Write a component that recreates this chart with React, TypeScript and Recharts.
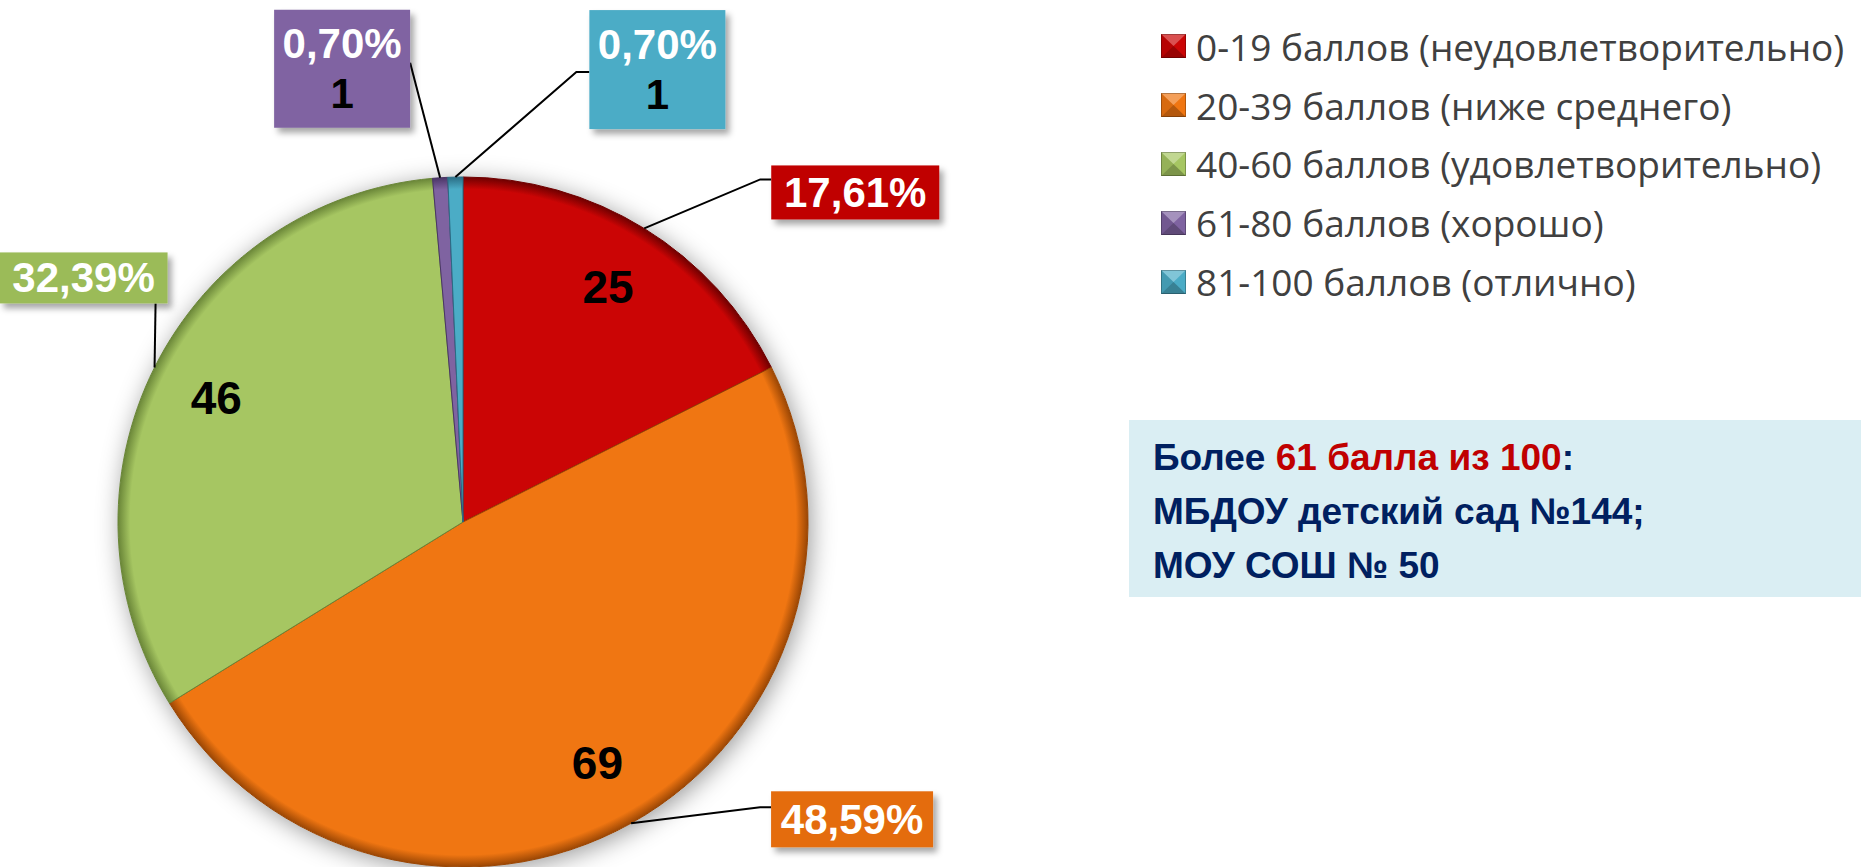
import React from 'react';
import { PieChart, Pie, Cell, Legend } from 'recharts';

const categories = [
  '0-19 баллов (неудовлетворительно)',
  '20-39 баллов (ниже среднего)',
  '40-60 баллов (удовлетворительно)',
  '61-80 баллов (хорошо)',
  '81-100 баллов (отлично)',
];
const counts = [25, 69, 46, 1, 1];
const sliceColors = ['#CB0505', '#F07612', '#A6C662', '#7F63A1', '#4BACC6'];
const rimColors = ['#6E0000', '#9A4604', '#6A8638', '#4A3566', '#2A6C84'];
const boxColors = ['#C00000', '#E46C0A', '#9BBB59', '#8064A2', '#4BACC6'];

const noteLine1 = ['Более ', '61 балла из 100', ':'];
const noteLine2 = 'МБДОУ детский сад №144;';
const noteLine3 = 'МОУ СОШ № 50';

const W = 1861;
const H = 867;
const CX = 463;
const CY = 522;
const R = 345;

const total = counts.reduce((a, b) => a + b, 0);
const data = categories.map((name, i) => ({ name, value: counts[i] }));
const bgData = [{ name: 'bg', value: total }];

// label box layout, offsets relative to the slice's outer edge point
const labelLayout = [
  { bx: 127, by: -63, w: 168, h: 54, ex: 116, ey: -49, tx: 127, ty: -49 },
  { bx: 140, by: -32, w: 162, h: 56, ex: 129, ey: -16, tx: 140, ty: -16 },
  { bx: -155, by: -115, w: 168, h: 51, ex: 1, ey: -64, tx: 1, ty: -64 },
  { bx: -166, by: -168, w: 136, h: 118, ex: -30, ey: -115, tx: -30, ty: -115 },
  { bx: 134, by: -167, w: 136, h: 119, ex: 121, ey: -105, tx: 134, ty: -105 },
];

const RAD = Math.PI / 180;
const boldFont = '"Liberation Sans", Arial, sans-serif';

const renderLabel = (props: any) => {
  const { cx, cy, midAngle, outerRadius, index, value } = props;
  const ax = cx + outerRadius * Math.cos(-midAngle * RAD);
  const ay = cy + outerRadius * Math.sin(-midAngle * RAD);
  const L = labelLayout[index];
  const small = value / total < 0.05;
  const pct = ((value / total) * 100).toFixed(2).replace('.', ',') + '%';
  const ir = outerRadius * 0.8;
  const ix = cx + ir * Math.cos(-midAngle * RAD);
  const iy = cy + ir * Math.sin(-midAngle * RAD);
  const bx = ax + L.bx;
  const by = ay + L.by;
  const pts = `${ax},${ay} ${ax + L.ex},${ay + L.ey} ${ax + L.tx},${ay + L.ty}`;
  return (
    <g key={`lbl-${index}`}>
      {!small && (
        <text x={ix} y={iy} textAnchor="middle" dominantBaseline="central"
          fontFamily={boldFont} fontWeight="bold" fontSize={46} fill="#000">
          {value}
        </text>
      )}
      <polyline points={pts} fill="none" stroke="#000" strokeWidth={2} />
      <rect x={bx} y={by} width={L.w} height={L.h} fill={boxColors[index]} filter="url(#boxShadow)" />
      {small ? (
        <>
          <text x={bx + L.w / 2} y={by + L.h / 2 - 25} textAnchor="middle" dominantBaseline="central"
            fontFamily={boldFont} fontWeight="bold" fontSize={42} fill="#fff">{pct}</text>
          <text x={bx + L.w / 2} y={by + L.h / 2 + 25} textAnchor="middle" dominantBaseline="central"
            fontFamily={boldFont} fontWeight="bold" fontSize={42} fill="#000">{value}</text>
        </>
      ) : (
        <text x={bx + L.w / 2} y={by + L.h / 2} textAnchor="middle" dominantBaseline="central"
          fontFamily={boldFont} fontWeight="bold" fontSize={42} fill="#fff">{pct}</text>
      )}
    </g>
  );
};

const Marker = ({ color }: { color: string }) => (
  <svg width={25} height={24} style={{ display: 'block', flex: 'none' }}>
    <rect x={0} y={0} width={25} height={24} fill={color} />
    <polygon points="0,0 25,0 12.5,12" fill="#fff" opacity={0.3} />
    <polygon points="0,24 25,24 12.5,12" fill="#000" opacity={0.25} />
    <polygon points="0,0 0,24 12.5,12" fill="#000" opacity={0.1} />
    <rect x={0.5} y={0.5} width={24} height={23} fill="none" stroke="#000" strokeOpacity={0.25} />
  </svg>
);

const renderLegend = () => (
  <div>
    {categories.map((c, i) => (
      <div key={c} style={{ display: 'flex', alignItems: 'center', height: 58.8 }}>
        <Marker color={sliceColors[i]} />
        <span style={{ marginLeft: 10, fontFamily: '"Open Sans", sans-serif', fontSize: 37, color: '#404040', whiteSpace: 'nowrap', lineHeight: 1 }}>{c}</span>
      </div>
    ))}
  </div>
);

export default function App() {
  return (
    <div style={{ position: 'relative', width: W, height: H, overflow: 'hidden', background: '#fff' }}>
      <style>{`body{margin:0;} html,body{overflow:hidden;}`}</style>
      <svg width={0} height={0} style={{ position: 'absolute' }}>
        <defs>
          {sliceColors.map((c, i) => (
            <radialGradient key={i} id={`sg${i}`} gradientUnits="userSpaceOnUse" cx={CX} cy={CY} r={R}>
              <stop offset="0" stopColor={c} />
              <stop offset="0.965" stopColor={c} />
              <stop offset="1" stopColor={rimColors[i]} />
            </radialGradient>
          ))}
          <filter id="pieShadow" x="-20%" y="-20%" width="140%" height="140%">
            <feDropShadow dx="3" dy="4" stdDeviation="12" floodColor="#000" floodOpacity="0.4" />
          </filter>
          <filter id="boxShadow" x="-20%" y="-20%" width="150%" height="150%">
            <feDropShadow dx="4" dy="5" stdDeviation="3" floodColor="#000" floodOpacity="0.35" />
          </filter>
        </defs>
      </svg>
      <PieChart width={W} height={H} margin={{ top: 0, right: 0, bottom: 0, left: 0 }}>
        <Pie data={bgData} dataKey="value" cx={CX} cy={CY} outerRadius={R} startAngle={90} endAngle={-270}
          isAnimationActive={false} stroke="none" legendType="none">
          <Cell fill="#fff" filter="url(#pieShadow)" />
        </Pie>
        <Pie data={data} dataKey="value" nameKey="name" cx={CX} cy={CY} outerRadius={R}
          startAngle={90} endAngle={-270} isAnimationActive={false}
          label={renderLabel} labelLine={false}>
          {data.map((d, i) => (
            <Cell key={d.name} fill={`url(#sg${i})`} stroke={rimColors[i]} strokeWidth={1} />
          ))}
        </Pie>
        <Legend layout="vertical" align="center" verticalAlign="middle" content={renderLegend}
          wrapperStyle={{ left: 1161, top: 17, width: 700 }} />
      </PieChart>
      <div style={{
        position: 'absolute', left: 1129, top: 420, width: 732, height: 177, background: '#DAEEF3',
        boxSizing: 'border-box', paddingTop: 10.75, paddingLeft: 24,
        fontFamily: boldFont, fontWeight: 'bold', fontSize: 37, lineHeight: '54px', color: '#002060',
      }}>
        <div>{noteLine1[0]}<span style={{ color: '#C00000' }}>{noteLine1[1]}</span>{noteLine1[2]}</div>
        <div>{noteLine2}</div>
        <div>{noteLine3}</div>
      </div>
    </div>
  );
}
